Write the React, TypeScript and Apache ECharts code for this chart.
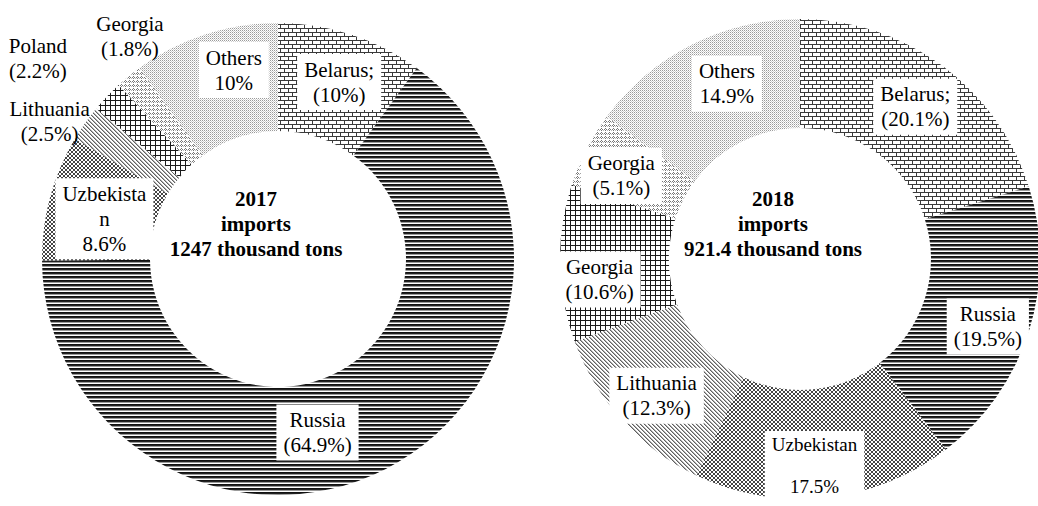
import React, { useEffect, useRef } from "react";
import * as echarts from "echarts";

// ---------- data ----------
const countries2017 = ["Belarus", "Russia", "Uzbekistan", "Lithuania", "Poland", "Georgia", "Others"];
const shares2017 = [10, 64.9, 8.6, 2.5, 2.2, 1.8, 10];
const labels2017 = [
  "Belarus;\n(10%)",
  "Russia\n(64.9%)",
  "Uzbekista\nn\n8.6%",
  "Lithuania\n(2.5%)",
  "Poland\n(2.2%)",
  "Georgia\n(1.8%)",
  "Others\n10%",
];
const patterns2017 = ["brick", "hlines", "diamond", "gray", "grid", "dotted", "light"];

const countries2018 = ["Belarus", "Russia", "Uzbekistan", "Lithuania", "Georgia", "Georgia", "Others"];
const shares2018 = [20.1, 19.5, 17.5, 12.3, 10.6, 5.1, 14.9];
const labels2018 = [
  "Belarus;\n(20.1%)",
  "Russia\n(19.5%)",
  "Uzbekistan\n \n17.5%",
  "Lithuania\n(12.3%)",
  "Georgia\n(10.6%)",
  "Georgia\n(5.1%)",
  "Others\n14.9%",
];
const patterns2018 = ["brick", "hlines", "diamond", "gray", "grid", "dotted", "light"];

const centerText2017 = "2017\nimports\n1247 thousand tons";
const centerText2018 = "2018\nimports\n921.4 thousand tons";

// ---------- label placement (offsets from the default inside position) ----------
const offsets2017: [number, number][] = [
  [4, -1],
  [-45, 9],
  [5, 8],
  [-77, -31],
  [-106, -73],
  [-31, -79],
  [13, -13],
];
const boxed2017 = [true, true, true, false, false, false, true];
const offsets2018: [number, number][] = [
  [4, 0],
  [8, 11],
  [-5, 19],
  [-4, 10],
  [-12, 17],
  [-11, 3],
  [12, -7],
];
const boxed2018 = [true, true, true, true, true, true, true];

const FONT = "Liberation Serif";

function makeTile(w: number, h: number, draw: (px: (x: number, y: number, c: string) => void) => void) {
  const c = document.createElement("canvas");
  c.width = w;
  c.height = h;
  const ctx = c.getContext("2d")!;
  ctx.fillStyle = "#ffffff";
  ctx.fillRect(0, 0, w, h);
  const px = (x: number, y: number, col: string) => {
    ctx.fillStyle = col;
    ctx.fillRect(x, y, 1, 1);
  };
  draw(px);
  return { image: c.toDataURL(), imageWidth: w, imageHeight: h, repeat: "repeat" };
}

function buildPatterns() {
  const p: Record<string, any> = {};
  p.brick = makeTile(8, 8, (px) => {
    for (let x = 0; x < 8; x++) {
      px(x, 0, "#3a3a3a");
      px(x, 4, "#3a3a3a");
    }
    for (let y = 1; y < 4; y++) px(0, y, "#3a3a3a");
    for (let y = 5; y < 8; y++) px(4, y, "#3a3a3a");
  });
  p.hlines = makeTile(4, 4, (px) => {
    for (let x = 0; x < 4; x++) {
      px(x, 0, "#111111");
      px(x, 1, "#222222");
      px(x, 2, "#9a9a9a");
    }
  });
  p.diamond = makeTile(4, 4, (px) => {
    for (let i = 0; i < 4; i++) {
      px(i, i, "#444444");
      px(3 - i, i, "#444444");
    }
  });
  p.gray = makeTile(4, 4, (px) => {
    for (let i = 0; i < 4; i++) {
      px(i, i, "#606060");
      px((i + 1) % 4, i, "#b0b0b0");
    }
  });
  p.grid = makeTile(5, 5, (px) => {
    for (let i = 0; i < 5; i++) {
      px(i, 0, "#1a1a1a");
      px(0, i, "#1a1a1a");
    }
  });
  p.dotted = makeTile(4, 4, (px) => {
    px(1, 0, "#777777");
    px(0, 1, "#777777");
    px(2, 1, "#777777");
    px(1, 2, "#777777");
    px(3, 2, "#bbbbbb");
  });
  p.light = makeTile(2, 2, (px) => {
    px(0, 0, "#9a9a9a");
    px(1, 1, "#cfcfcf");
  });
  return p;
}

function richText(s: string) {
  return s
    .split("\n")
    .map((l) => "{t|" + l + "}")
    .join("\n");
}

function buildSeries(
  names: string[],
  values: number[],
  labels: string[],
  pats: string[],
  offsets: [number, number][],
  boxed: boolean[],
  center: [number, number],
  radius: [number, number],
  patternMap: Record<string, any>,
  fontSizes?: Record<number, number>
) {
  return {
    type: "pie",
    center,
    radius,
    startAngle: 90,
    clockwise: true,
    avoidLabelOverlap: false,
    silent: true,
    label: {
      show: true,
      position: "inside",
      color: "#000",
      fontFamily: FONT,
      fontSize: 21,
      lineHeight: 25,
      align: "center",
    },
    labelLine: { show: false },
    labelLayout: (params: any) => {
      const o = offsets[params.dataIndex];
      return { dx: o[0], dy: o[1] };
    },
    itemStyle: { borderWidth: 0 },
    data: values.map((v, i) => {
      const fs = fontSizes && fontSizes[i] ? fontSizes[i] : 21;
      const lh = fontSizes && fontSizes[i] ? 21 : 25;
      return {
        value: v,
        name: names[i],
        itemStyle: { color: patternMap[pats[i]] },
        label: {
          formatter: richText(labels[i]),
          fontFamily: FONT,
          backgroundColor: boxed[i] ? "#ffffff" : "transparent",
          padding: boxed[i] ? [3, 7] : 0,
          fontSize: fs,
          lineHeight: lh,
          rich: {
            t: {
              fontFamily: FONT,
              fontSize: fs,
              lineHeight: lh,
              color: "#000",
              align: "center",
            },
          },
        },
      };
    }),
  };
}

export default function App() {
  const ref = useRef<HTMLDivElement>(null);
  useEffect(() => {
    if (!ref.current) return;
    const chart = echarts.init(ref.current, undefined, { renderer: "svg" });
    const patternMap = buildPatterns();
    chart.setOption({
      animation: false,
      backgroundColor: "#ffffff",
      textStyle: { fontFamily: FONT },
      series: [
        buildSeries(countries2017, shares2017, labels2017, patterns2017, offsets2017, boxed2017, [278, 259], [128, 236], patternMap),
        buildSeries(countries2018, shares2018, labels2018, patterns2018, offsets2018, boxed2018, [800, 259], [131, 240], patternMap, { 2: 19 }),
      ],
      graphic: [
        {
          type: "text",
          x: 256,
          y: 224,
          style: {
            text: centerText2017,
            fontFamily: FONT,
            fontWeight: "bold",
            fontSize: 21,
            lineHeight: 25,
            fill: "#000",
            align: "center",
            verticalAlign: "middle",
          },
        },
        {
          type: "text",
          x: 773,
          y: 224,
          style: {
            text: centerText2018,
            fontFamily: FONT,
            fontWeight: "bold",
            fontSize: 21,
            lineHeight: 25,
            fill: "#000",
            align: "center",
            verticalAlign: "middle",
          },
        },
      ],
    });
    return () => chart.dispose();
  }, []);
  return (
    <div
      ref={ref}
      style={{ position: "fixed", left: 0, top: 0, width: 1038, height: 506, background: "#fff" }}
    />
  );
}
